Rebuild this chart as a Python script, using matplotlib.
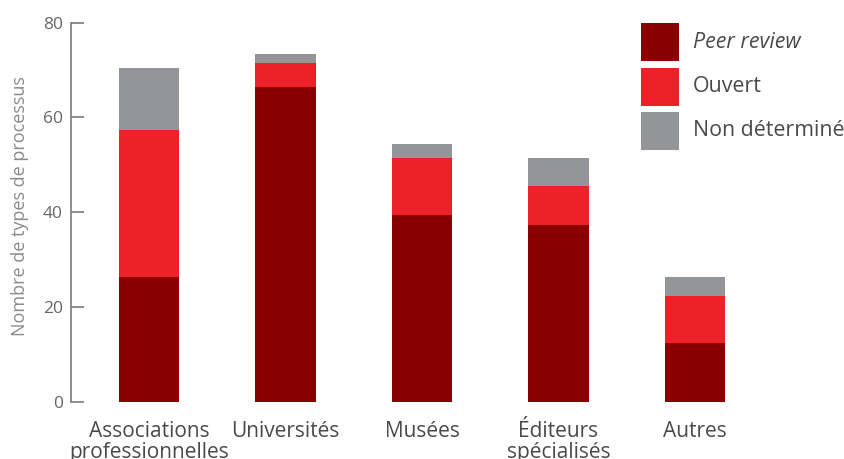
import matplotlib
matplotlib.use("Agg")
import matplotlib.pyplot as plt
from matplotlib.patches import Rectangle

categories = ["Associations\nprofessionnelles", "Universités", "Musées", "Éditeurs\nspécialisés", "Autres"]
series_names = ["Peer review", "Ouvert", "Non déterminé"]
peer_review = [26.3, 66.4, 39.5, 37.4, 12.4]
ouvert = [31.1, 5.0, 12.0, 8.2, 9.9]
non_determine = [13.1, 2.0, 2.9, 5.9, 4.0]
colors = ["#8a0000", "#ed2228", "#939598"]
yticks = [0, 20, 40, 60, 80]

W, H = 845, 459
fig = plt.figure(figsize=(W / 100, H / 100), dpi=100)
font = "Open Sans"

ax_left, ax_right = 71, 845
ax_top, ax_bot = 22.7, 401.7
ax = fig.add_axes([ax_left / W, 1 - ax_bot / H, (ax_right - ax_left) / W, (ax_bot - ax_top) / H])

x = list(range(len(categories)))
bottom = [0] * len(categories)
for vals, c in zip([peer_review, ouvert, non_determine], colors):
    ax.bar(x, vals, width=0.44, bottom=bottom, color=c, linewidth=0, zorder=2)
    bottom = [b + v for b, v in zip(bottom, vals)]

unit = 136.5
ax.set_xlim(-(149 - ax_left) / unit, (ax_right - 149) / unit)
ax.set_ylim(0, 80)
ax.set_yticks(yticks)
ax.set_xticks(x)
ax.set_xticklabels(categories, fontsize=15, color="#4a4a4a", family=font, linespacing=1.02)
ax.tick_params(axis="x", length=0, pad=14)
ax.tick_params(axis="y", direction="in", length=9, width=1.2, color="#7a7a7a",
               labelsize=12.5, labelcolor="#666666", pad=6)
for lab in ax.get_yticklabels():
    lab.set_family(font)
for s in ["top", "right", "bottom"]:
    ax.spines[s].set_visible(False)
ax.spines["left"].set_color("#7a7a7a")
ax.spines["left"].set_linewidth(1.2)
ax.set_ylabel("Nombre de types de processus", fontsize=13, color="#8a8a8a", family=font)
ax.yaxis.label.set_verticalalignment("center")
ax.yaxis.set_label_coords((20 - ax_left) / (ax_right - ax_left), (ax_bot - 206) / (ax_bot - ax_top))

# legend
sq_x, sq_w = 641, 38
sq_tops = [23, 68, 112]
for name, c, t in zip(series_names, colors, sq_tops):
    fig.add_artist(Rectangle((sq_x / W, 1 - (t + sq_w) / H), sq_w / W, sq_w / H,
                             transform=fig.transFigure, color=c, linewidth=0))
    fig.text(693 / W, 1 - (t + sq_w / 2) / H, name, fontsize=15.4, color="#4a4a4a", family=font,
             va="center", ha="left", style="italic" if name == "Peer review" else "normal")

fig.savefig("out.png", dpi=100)
